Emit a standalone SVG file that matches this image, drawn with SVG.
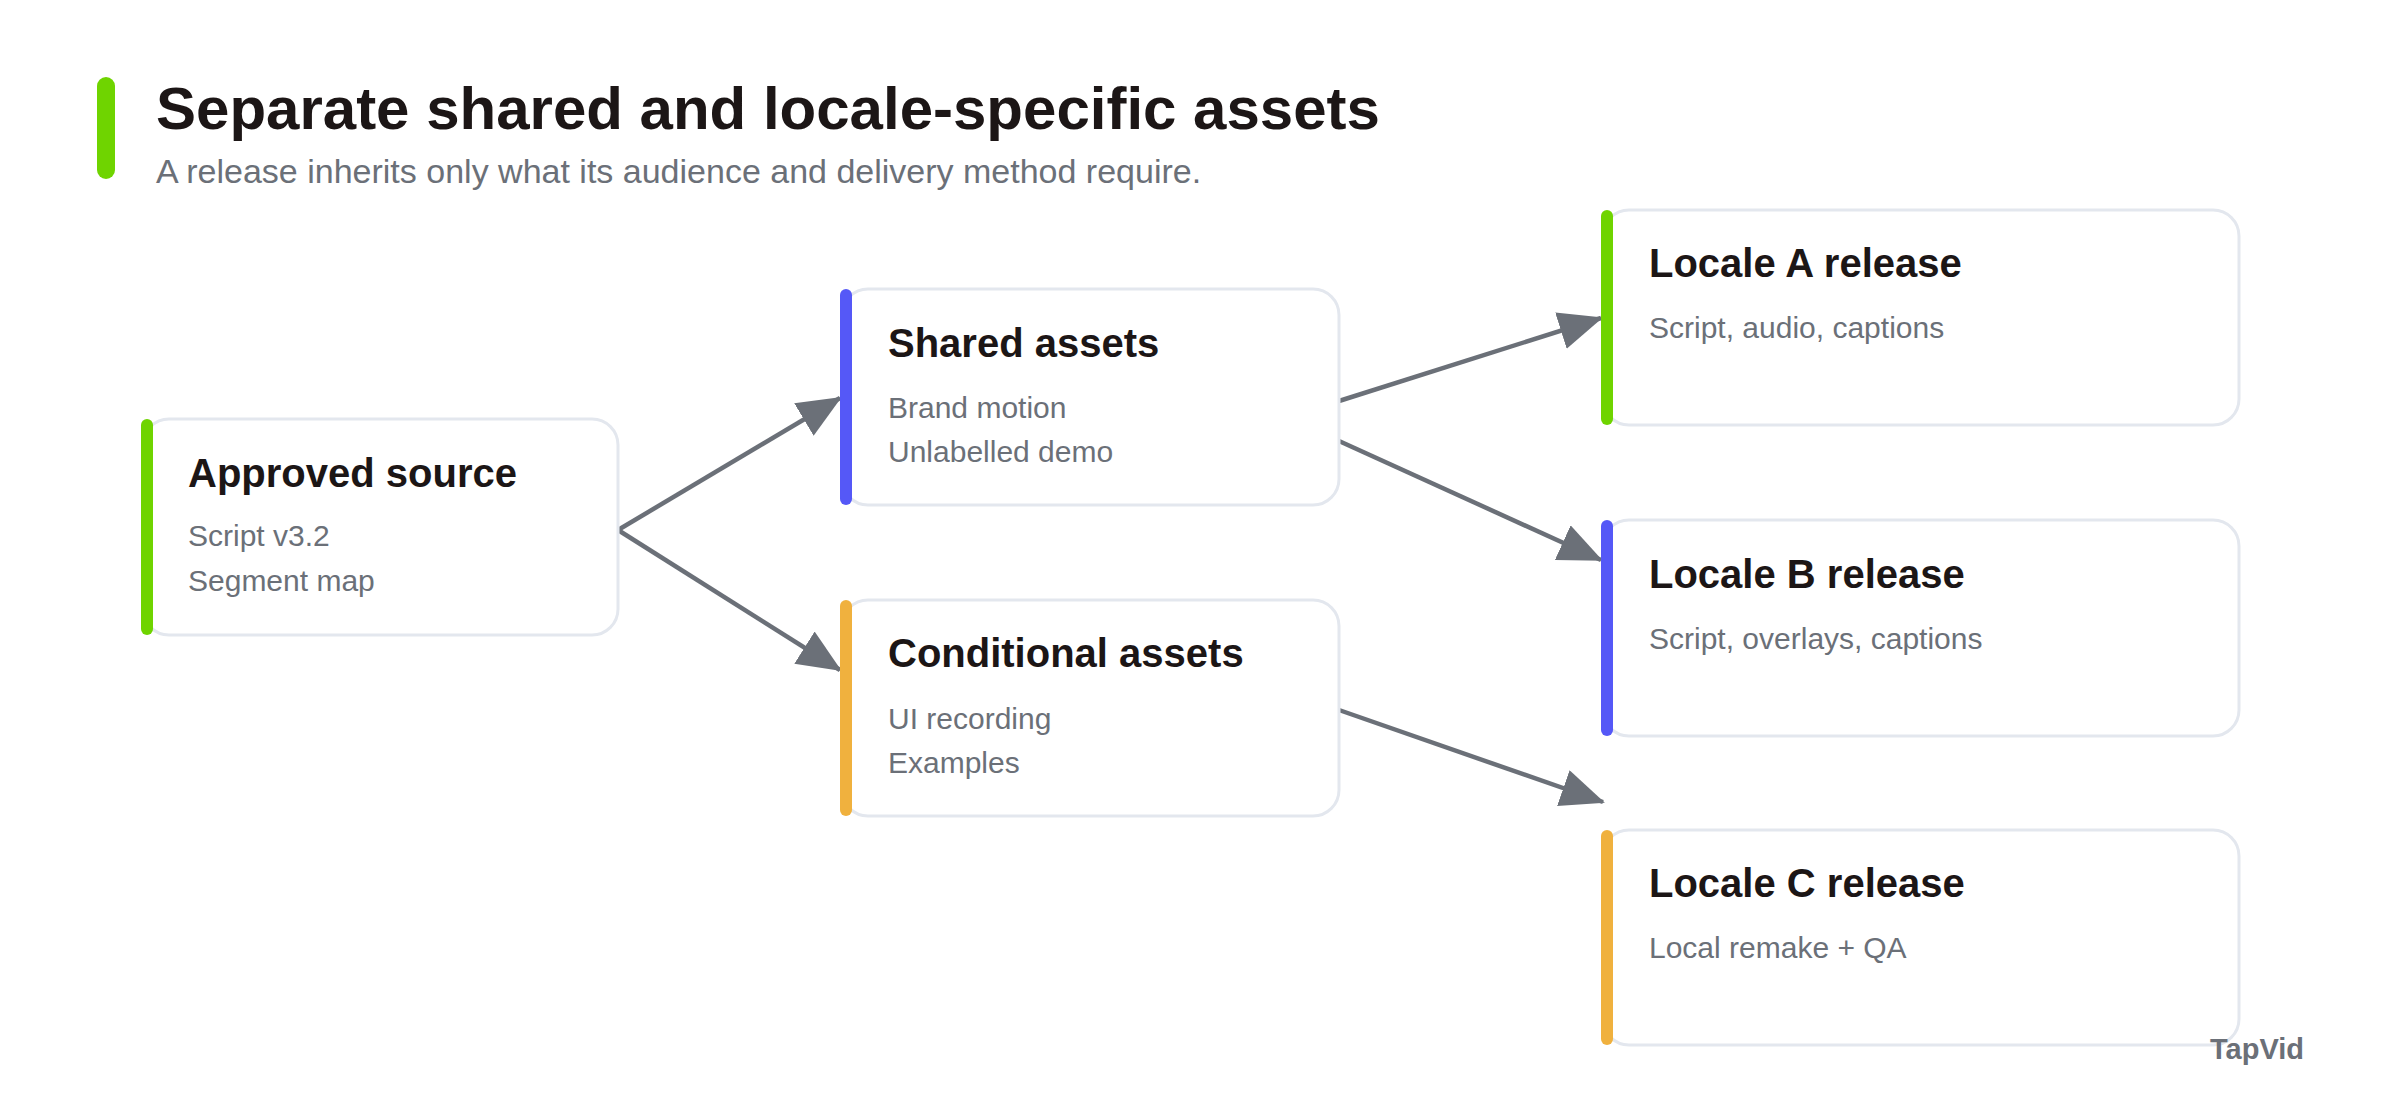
<svg xmlns="http://www.w3.org/2000/svg" width="2400" height="1120" viewBox="0 0 2400 1120">
<style>
.box{fill:#fff;stroke:#e3e7ee;stroke-width:3}
.t{font-family:"Liberation Sans",Arial,sans-serif;font-weight:bold;font-size:40px;fill:#1c1616}
.s{font-family:"Liberation Sans",Arial,sans-serif;font-size:30px;fill:#6b7078}
.c{stroke:#6b7078;stroke-width:4.5;fill:none;marker-end:url(#ah)}
.g{fill:#6fd400}.b{fill:#5558f7}.o{fill:#f0b13e}
</style>
<defs>
<marker id="ah" markerUnits="userSpaceOnUse" markerWidth="44" markerHeight="38" refX="42" refY="19" orient="auto">
<path d="M0,0 L44,19 L0,38 Z" fill="#6b7078"/>
</marker>
</defs>
<rect width="2400" height="1120" fill="#fff"/>
<g id="header">
<rect x="97" y="77" width="18" height="102" rx="9" class="g"/>
<text x="156" y="129" style="font-family:'Liberation Sans',Arial,sans-serif;font-weight:bold;font-size:60px;fill:#1c1616">Separate shared and locale-specific assets</text>
<text x="156" y="183" style="font-family:'Liberation Sans',Arial,sans-serif;font-size:34px;fill:#6b7078">A release inherits only what its audience and delivery method require.</text>
</g>
<g id="connectors">
<line x1="618" y1="530" x2="840" y2="398" class="c"/>
<line x1="618" y1="530" x2="840" y2="670" class="c"/>
<line x1="1339" y1="401" x2="1601" y2="318" class="c"/>
<line x1="1339" y1="441" x2="1601" y2="560" class="c"/>
<line x1="1339" y1="710" x2="1603" y2="802" class="c"/>
</g>
<g id="approved">
<rect x="143" y="419" width="475" height="216" rx="26" class="box"/>
<rect x="141" y="419" width="12" height="216" rx="6" class="g"/>
<text x="188" y="487" class="t">Approved source</text>
<text x="188" y="546" class="s">Script v3.2</text>
<text x="188" y="591" class="s">Segment map</text>
</g>
<g id="shared">
<rect x="842" y="289" width="497" height="216" rx="26" class="box"/>
<rect x="840" y="289" width="12" height="216" rx="6" class="b"/>
<text x="888" y="357" class="t">Shared assets</text>
<text x="888" y="418" class="s">Brand motion</text>
<text x="888" y="462" class="s">Unlabelled demo</text>
</g>
<g id="conditional">
<rect x="842" y="600" width="497" height="216" rx="26" class="box"/>
<rect x="840" y="600" width="12" height="216" rx="6" class="o"/>
<text x="888" y="667" class="t">Conditional assets</text>
<text x="888" y="729" class="s">UI recording</text>
<text x="888" y="773" class="s">Examples</text>
</g>
<g id="localeA">
<rect x="1603" y="210" width="636" height="215" rx="26" class="box"/>
<rect x="1601" y="210" width="12" height="215" rx="6" class="g"/>
<text x="1649" y="277" class="t">Locale A release</text>
<text x="1649" y="338" class="s">Script, audio, captions</text>
</g>
<g id="localeB">
<rect x="1603" y="520" width="636" height="216" rx="26" class="box"/>
<rect x="1601" y="520" width="12" height="216" rx="6" class="b"/>
<text x="1649" y="588" class="t">Locale B release</text>
<text x="1649" y="649" class="s">Script, overlays, captions</text>
</g>
<g id="localeC">
<rect x="1603" y="830" width="636" height="215" rx="26" class="box"/>
<rect x="1601" y="830" width="12" height="215" rx="6" class="o"/>
<text x="1649" y="897" class="t">Locale C release</text>
<text x="1649" y="958" class="s">Local remake + QA</text>
</g>
<text x="2304" y="1059" text-anchor="end" style="font-family:'Liberation Sans',Arial,sans-serif;font-weight:bold;font-size:29px;fill:#6b7078">TapVid</text>
</svg>
